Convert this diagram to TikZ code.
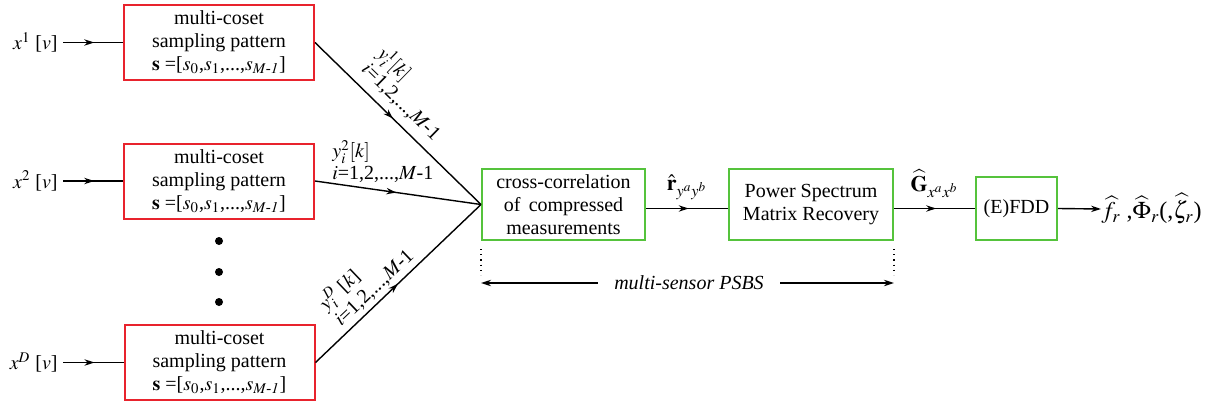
\documentclass[tikz,border=0pt]{standalone}
\usepackage{amsmath}
\usepackage{mathptmx}
\usepackage[no-math]{fontspec}
\setmainfont{Liberation Serif}
\usetikzlibrary{arrows.meta,decorations.markings}
\definecolor{boxred}{RGB}{232,35,45}
\definecolor{boxgreen}{RGB}{85,195,60}
\tikzset{
  redbox/.style={draw=boxred, line width=1pt, minimum width=95pt, minimum height=37.5pt, inner sep=0pt, align=center, font=\fontsize{10}{11.5}\selectfont},
  greenbox/.style={draw=boxgreen, line width=1pt, inner sep=0pt, align=center, font=\fontsize{10}{11.5}\selectfont},
  conn/.style={line width=0.7pt},
  midarrow/.style={conn, postaction={decorate}, decoration={markings, mark=at position #1 with {\arrow{Stealth[length=5pt,width=3.2pt]}}}},
  midarrow/.default=0.5,
  endarrow/.style={conn, -{Stealth[length=5pt,width=3.2pt]}},
  lbl/.style={inner sep=0pt, font=\fontsize{10}{11}\selectfont, align=left},
  dotn/.style={circle, fill=black, inner sep=0pt, minimum size=4pt},
}
\begin{document}
\begin{tikzpicture}[x=0.5pt,y=-0.5pt]
\useasboundingbox (0,0) rectangle (1220,407);
% sampling boxes
\node[redbox] (b1) at (219,42.5) {multi-coset\\sampling pattern\\$\mathbf{s}$ =[$s_0$,$s_1$,...,$s_{\mathit{M}\text{-}\mathit{1}}$]};
\node[redbox] (b2) at (219,181) {multi-coset\\sampling pattern\\$\mathbf{s}$ =[$s_0$,$s_1$,...,$s_{\mathit{M}\text{-}\mathit{1}}$]};
\node[redbox] (b3) at (219.5,362.5) {multi-coset\\sampling pattern\\$\mathbf{s}$ =[$s_0$,$s_1$,...,$s_{\mathit{M}\text{-}\mathit{1}}$]};
% dots
\node[dotn] (d1) at (219,241) {};
\node[dotn] (d2) at (219,272) {};
\node[dotn] (d3) at (219,302) {};
% inputs
\node[lbl, anchor=east] (in1) at (58,42.5) {$x^1$ [$v$]};
\node[lbl, anchor=east] (in2) at (58,181) {$x^2$ [$v$]};
\node[lbl, anchor=east] (in3) at (58,362.5) {$x^D$ [$v$]};
\draw[midarrow=0.52] ([xshift=2.5pt]in1.east) -- (b1.west);
\draw[midarrow=0.52] ([xshift=2.5pt]in2.east) -- (b2.west);
\draw[midarrow=0.52] ([xshift=2.5pt]in3.east) -- (b3.west);
% processing boxes
\node[greenbox, minimum width=81.5pt, minimum height=35.5pt] (A) at (563.5,204.5) {cross-correlation\\of\, compressed\\measurements};
\node[greenbox, minimum width=82pt, minimum height=35.5pt] (B) at (811,204.5) {Power Spectrum\\Matrix Recovery};
\node[greenbox, minimum width=40.5pt, minimum height=31.5pt] (C) at (1016.5,208.5) {(E)FDD};
% converging lines
\draw[midarrow=0.47] (b1.east) -- node[lbl, pos=0.445, above=4pt, sloped] {$y_i^1[k]$\\$i$=1,2,...,$M$-1} (A.west);
\draw[midarrow=0.49] (b2.east) -- (A.west);
\node[lbl, anchor=south west] (l2) at (332,183) {$y_i^2[k]$\\$i$=1,2,...,$M$-1};
\draw[midarrow=0.5] (b3.east) -- node[lbl, pos=0.41, above=2pt, sloped] {$y_i^D$ [$k$]\\$i$=1,2,...,$M$-1} (A.west);
% chain
\draw[midarrow=0.52] (A.east |- C.west) -- node[lbl, midway, above=4pt, font=\fontsize{11}{12}\selectfont] {$\hat{\mathbf{r}}_{y^a y^b}$} (B.west |- C.west);
\draw[midarrow=0.52] (B.east |- C.west) -- node[lbl, midway, above=5pt, font=\fontsize{11}{12}\selectfont] {$\widehat{\mathbf{G}}_{x^a x^b}$} (C.west);
\node[lbl, anchor=west, font=\fontsize{12}{14}\selectfont] (out) at (1101,209) {$\widehat{f}_r$ ,$\widehat{\Phi}_r$(,$\widehat{\zeta}_r$)};
\draw[endarrow] (C.east) -- (out.west);
% PSBS span
\draw[dotted, line width=0.6pt] ([yshift=-4pt]A.south west) -- ++(0,26);
\draw[dotted, line width=0.6pt] ([yshift=-4pt]B.south east) -- ++(0,26);
\node[lbl, font=\fontsize{10}{12}\selectfont\itshape] (ps) at (689,283) {multi-sensor PSBS};
\draw[conn, {Stealth[length=5pt,width=3.2pt]}-] (A.west |- ps) -- ([xshift=-8pt]ps.west);
\draw[endarrow] ([xshift=8pt]ps.east) -- (B.east |- ps);
\end{tikzpicture}
\end{document}
